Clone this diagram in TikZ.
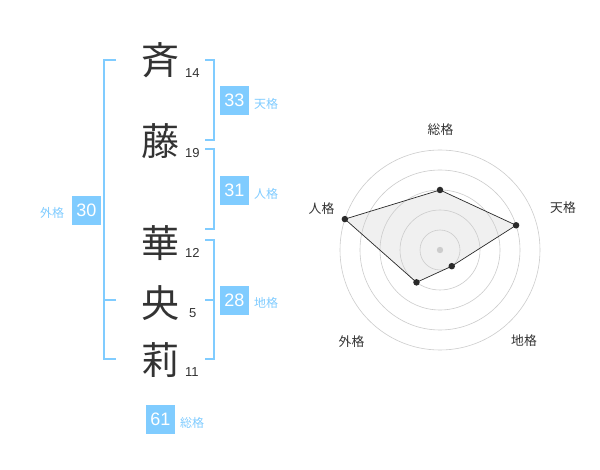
\documentclass[tikz,border=0pt]{standalone}
\usepackage{fontspec}
\setmainfont{Liberation Sans}
\newfontfamily\cjk{Noto Sans CJK JP}
\begin{document}
\begin{tikzpicture}[x=1pt,y=-1pt,
  brk/.style={draw=bblue,line width=2pt},
  kanji/.style={font=\cjk\fontsize{38}{38}\selectfont,text=txt,inner sep=0pt},
  strokes/.style={font=\fontsize{13}{13}\selectfont,text=txt,inner sep=0pt,anchor=west},
  valbox/.style={fill=bblue,text=white,font=\fontsize{18}{18}\selectfont,minimum width=29pt,minimum height=29pt,inner sep=0pt},
  lab/.style={font=\cjk\fontsize{12}{12}\selectfont,text=bblue,inner sep=0pt},
  rlab/.style={font=\cjk\fontsize{12.8}{13}\selectfont,text=txt,inner sep=0pt},
  ring/.style={draw=ringc,line width=0.6pt},
  dot/.style={circle,fill=dotc,inner sep=0pt,minimum size=6.5pt}]
\definecolor{bblue}{HTML}{80CCFF}
\definecolor{txt}{HTML}{333333}
\definecolor{ringc}{HTML}{CCCCCC}
\definecolor{dotc}{HTML}{2A2A2A}
\useasboundingbox (0,0) rectangle (600,470);
\fill[white] (0,0) rectangle (600,470);
% characters
\node[kanji] (k1) at (160,60) {斉};
\node[kanji] (k2) at (160,141) {藤};
\node[kanji] (k3) at (160,243) {華};
\node[kanji] (k4) at (160,303) {央};
\node[kanji] (k5) at (160,360) {莉};
\node[strokes] (s1) at (185,73) {14};
\node[strokes] (s2) at (185,153) {19};
\node[strokes] (s3) at (185,253) {12};
\node[strokes] (s4) at (189,313) {5};
\node[strokes] (s5) at (185,372) {11};
% brackets
\coordinate (l1) at (116,60);
\coordinate (l2) at (116,359);
\coordinate (lm) at (116,300);
\draw[brk] (l1) -- (104,60) -- (104,359) -- (l2);
\draw[brk] (lm) -- (104,300);
\coordinate (r1a) at (205,60);
\coordinate (r1b) at (205,140);
\draw[brk] (r1a) -- (214,60) -- (214,140) -- (r1b);
\coordinate (r2a) at (205,149);
\coordinate (r2b) at (205,229);
\draw[brk] (r2a) -- (214,149) -- (214,229) -- (r2b);
\coordinate (r3a) at (205,240);
\coordinate (r3b) at (205,359);
\coordinate (r3m) at (205,300);
\draw[brk] (r3a) -- (214,240) -- (214,359) -- (r3b);
\draw[brk] (r3m) -- (214,300);
% value boxes
\node[valbox] (b30) at (86.5,210.5) {30};
\node[valbox] (b33) at (234.5,100.5) {33};
\node[valbox] (b31) at (234.5,190.5) {31};
\node[valbox] (b28) at (234.5,300.5) {28};
\node[valbox] (b61) at (160.5,419) {61};
\node[lab] (t30) at (52,213) {外格};
\node[lab] (t33) at (266,104) {天格};
\node[lab] (t31) at (266,194) {人格};
\node[lab] (t28) at (266,303) {地格};
\node[lab] (t61) at (192,423) {総格};
% radar
\begin{scope}[shift={(440,250)},yscale=-1]
  \coordinate (c) at (0,0);
  \coordinate (p1) at (90:60);
  \coordinate (p2) at (18:80);
  \coordinate (p3) at (-54:20);
  \coordinate (p4) at (-126:40);
  \coordinate (p5) at (162:100);
  \fill[fill=black!6] (p1) -- (p2) -- (p3) -- (p4) -- (p5) -- cycle;
  \foreach \r in {20,40,60,80,100} \draw[ring] (c) circle (\r);
  \draw[line width=0.7pt,draw=dotc] (p1) -- (p2) -- (p3) -- (p4) -- (p5) -- cycle;
  \fill[ringc] (c) circle (3.2);
  \node[dot] (d1) at (p1) {};
  \node[dot] (d2) at (p2) {};
  \node[dot] (d3) at (p3) {};
  \node[dot] (d4) at (p4) {};
  \node[dot] (d5) at (p5) {};
\end{scope}
\node[rlab] (rl1) at (440.5,130) {総格};
\node[rlab] (rl2) at (563,208) {天格};
\node[rlab] (rl3) at (321.5,209) {人格};
\node[rlab] (rl4) at (351.5,342) {外格};
\node[rlab] (rl5) at (524,341) {地格};
\end{tikzpicture}
\end{document}
